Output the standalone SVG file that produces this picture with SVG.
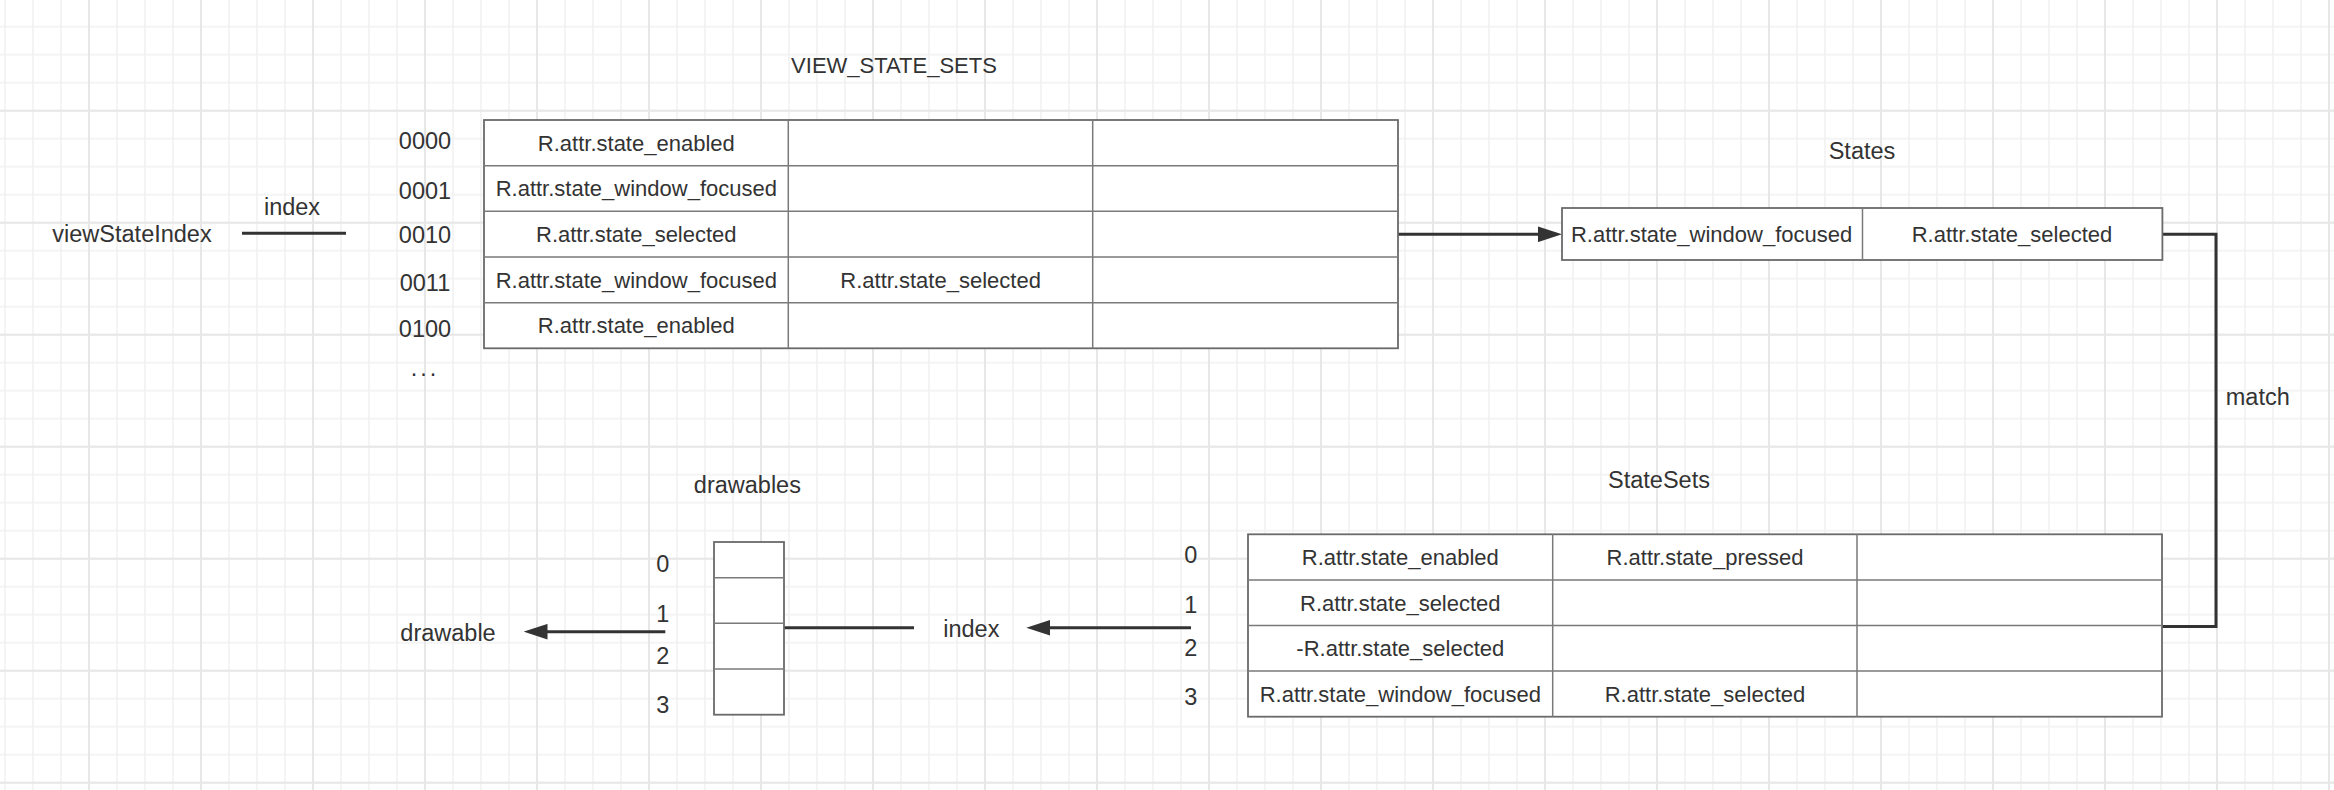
<svg xmlns="http://www.w3.org/2000/svg" width="2334" height="790" viewBox="0 0 2334 790">
<style>
.t{font-family:"Liberation Sans",Arial,Helvetica,sans-serif;fill:#333;}
.c{font-size:22px;text-anchor:middle;}
.l{font-size:23.5px;text-anchor:middle;}
.tb{fill:#fff;stroke:#6a6a6a;stroke-width:1.8;}
.gl{stroke:#7a7a7a;stroke-width:1.5;fill:none;}
.cn{stroke:#333;stroke-width:3;fill:none;}
</style>
<defs>
<pattern id="gm" width="28" height="28" patternUnits="userSpaceOnUse" x="-9" y="12.7"><path d="M14 0V28M0 14H28" stroke="#f1f1f1" stroke-width="1.5" fill="none"/></pattern>
<pattern id="gM" width="112" height="112" patternUnits="userSpaceOnUse" x="33" y="54.7"><path d="M56 0V112M0 56H112" stroke="#e7e7e7" stroke-width="2" fill="none"/></pattern>
<marker id="arr" markerWidth="24" markerHeight="16" refX="2" refY="8" orient="auto" markerUnits="userSpaceOnUse"><path d="M0,0.2 L24,8 L0,15.8 z" fill="#333"/></marker>
</defs>
<rect width="2334" height="790" fill="#fff"/>
<rect width="2334" height="790" fill="url(#gm)"/>
<rect width="2334" height="790" fill="url(#gM)"/>

<g id="connectors">
<path class="cn" d="M242 233.3H346"/>
<path class="cn" d="M1398 234.3H1540" marker-end="url(#arr)"/>
<path class="cn" d="M2162 234.3H2216V626.5H2162"/>
<path class="cn" d="M1191 627.7H1048.3" marker-end="url(#arr)"/>
<path class="cn" d="M784 627.7H914"/>
<path class="cn" d="M665.3 631.7H545.5" marker-end="url(#arr)"/>
</g>

<g id="viewStateIndex"><text class="t l" x="132" y="242.3">viewStateIndex</text></g>
<g id="index-top"><text class="t l" x="292" y="215">index</text></g>
<g id="title-view-state-sets"><text class="t c" x="894" y="73.3">VIEW_STATE_SETS</text></g>

<g id="view-row-labels">
<text class="t l" x="425" y="149.3">0000</text>
<text class="t l" x="425" y="199.3">0001</text>
<text class="t l" x="425" y="242.7">0010</text>
<text class="t l" x="425" y="291">0011</text>
<text class="t l" x="425" y="336.7">0100</text>
<text class="t l" x="425" y="376" letter-spacing="3">...</text>
</g>

<g id="VIEW_STATE_SETS">
<rect class="tb" x="484" y="120" width="914" height="228.3"/>
<path class="gl" d="M484 165.7H1398M484 211.3H1398M484 257H1398M484 302.7H1398M788.3 120V348.3M1092.7 120V348.3"/>
<text class="t c" x="636.3" y="150.7">R.attr.state_enabled</text>
<text class="t c" x="636.3" y="196.4">R.attr.state_window_focused</text>
<text class="t c" x="636.3" y="242.1">R.attr.state_selected</text>
<text class="t c" x="636.3" y="287.7">R.attr.state_window_focused</text>
<text class="t c" x="940.6" y="287.7">R.attr.state_selected</text>
<text class="t c" x="636.3" y="333.4">R.attr.state_enabled</text>
</g>

<g id="title-states"><text class="t l" x="1862" y="159.3">States</text></g>
<g id="States">
<rect class="tb" x="1562" y="208" width="600.4" height="52"/>
<path class="gl" d="M1862.5 208V260"/>
<text class="t c" x="1711.6" y="241.9">R.attr.state_window_focused</text>
<text class="t c" x="2012" y="241.9">R.attr.state_selected</text>
</g>

<g id="label-match"><text class="t l" x="2257.8" y="405">match</text></g>

<g id="title-statesets"><text class="t l" x="1659" y="487.7">StateSets</text></g>
<g id="statesets-row-labels">
<text class="t l" x="1190.7" y="563.3">0</text>
<text class="t l" x="1190.7" y="612.7">1</text>
<text class="t l" x="1190.7" y="655.7">2</text>
<text class="t l" x="1190.7" y="705">3</text>
</g>
<g id="StateSets">
<rect class="tb" x="1248" y="534.3" width="914" height="182.4"/>
<path class="gl" d="M1248 579.9H2162M1248 625.5H2162M1248 671.1H2162M1552.7 534.3V716.7M1857 534.3V716.7"/>
<text class="t c" x="1400.3" y="565">R.attr.state_enabled</text>
<text class="t c" x="1705" y="565">R.attr.state_pressed</text>
<text class="t c" x="1400.3" y="610.6">R.attr.state_selected</text>
<text class="t c" x="1400.3" y="656.2">-R.attr.state_selected</text>
<text class="t c" x="1400.3" y="701.8">R.attr.state_window_focused</text>
<text class="t c" x="1705" y="701.8">R.attr.state_selected</text>
</g>

<g id="index-bottom"><text class="t l" x="971.3" y="637.3">index</text></g>

<g id="title-drawables"><text class="t l" x="747.4" y="493.3">drawables</text></g>
<g id="drawables-row-labels">
<text class="t l" x="662.7" y="571.7">0</text>
<text class="t l" x="662.7" y="621.7">1</text>
<text class="t l" x="662.7" y="664">2</text>
<text class="t l" x="662.7" y="713.3">3</text>
</g>
<g id="drawables">
<rect class="tb" x="714" y="542" width="70" height="172.7"/>
<path class="gl" d="M714 577.7H784M714 623.3H784M714 669H784"/>
</g>

<g id="drawable"><text class="t l" x="448" y="640.7">drawable</text></g>
</svg>
